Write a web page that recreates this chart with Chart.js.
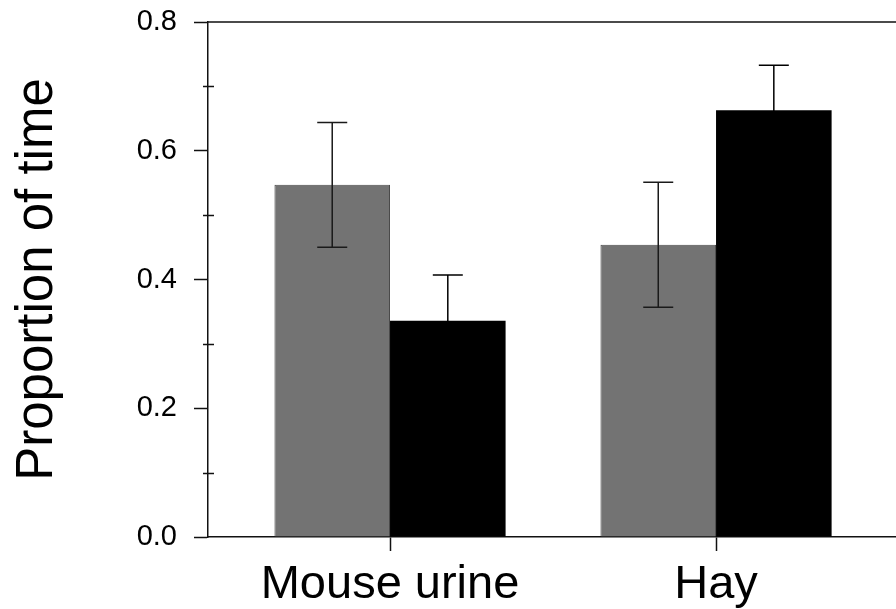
<!DOCTYPE html>
<html>
<head>
<meta charset="utf-8">
<script src="https://cdn.jsdelivr.net/npm/chart.js@4/dist/chart.umd.min.js"></script>
<style>
  html, body { margin: 0; padding: 0; background: #fff; overflow: hidden; }
  #wrap { width: 896px; height: 609px; position: relative; }
</style>
</head>
<body>
<div id="wrap"><canvas id="chart"></canvas></div>
<script>
// data
var categories = ['Mouse urine', 'Hay'];
var catPositions = [1, 2];
var grayValues = [0.547, 0.454];
var grayErrors = [0.097, 0.097];
var blackValues = [0.336, 0.663];
var blackErrors = [0.071, 0.070];
var yTicks = [0.0, 0.1, 0.2, 0.3, 0.4, 0.5, 0.6, 0.7, 0.8];

var FONT = "'Liberation Sans', Arial, sans-serif";

function points(vals) {
    return vals.map(function (v, i) { return { x: catPositions[i], y: v }; });
}

function isMajor(v) {
    return Math.round(v * 10) % 2 === 0;
}

// error bars, minor y ticks and the top frame line
var extras = {
    id: 'extras',
    afterDatasetsDraw: function (chart) {
        var ctx = chart.ctx;
        var yScale = chart.scales.y;
        var area = chart.chartArea;
        ctx.save();
        ctx.strokeStyle = '#111';
        ctx.lineWidth = 1.5;
        chart.data.datasets.forEach(function (ds, i) {
            var meta = chart.getDatasetMeta(i);
            meta.data.forEach(function (bar, j) {
                var v = ds.data[j].y;
                var e = ds.errors[j];
                var yt = yScale.getPixelForValue(v + e);
                var yb = yScale.getPixelForValue(v - e);
                ctx.strokeStyle = ds.whisker;
                ctx.beginPath();
                ctx.moveTo(bar.x, yt); ctx.lineTo(bar.x, yb);
                ctx.moveTo(bar.x - 15, yt); ctx.lineTo(bar.x + 15, yt);
                ctx.moveTo(bar.x - 15, yb); ctx.lineTo(bar.x + 15, yb);
                ctx.stroke();
            });
        });
        ctx.strokeStyle = '#111';
        ctx.beginPath();
        yScale.ticks.forEach(function (t) {
            if (!isMajor(t.value)) {
                var y = Math.round(yScale.getPixelForValue(t.value)) + 0.5;
                ctx.moveTo(area.left - 5, y); ctx.lineTo(area.left + 6, y);
            }
        });
        ctx.moveTo(area.left, area.top); ctx.lineTo(area.right, area.top);
        ctx.stroke();
        ctx.restore();
    }
};

var chart = new Chart(document.getElementById('chart'), {
    type: 'bar',
    data: {
        datasets: [{
            label: 'Gray',
            data: points(grayValues),
            errors: grayErrors,
            whisker: '#1a1a1a',
            backgroundColor: '#737373',
            borderColor: '#4a4a4a',
            borderWidth: 1
        }, {
            label: 'Black',
            data: points(blackValues),
            errors: blackErrors,
            whisker: '#000',
            backgroundColor: '#000',
            borderColor: '#000',
            borderWidth: 0
        }]
    },
    options: {
        responsive: true,
        maintainAspectRatio: false,
        animation: false,
        categoryPercentage: 0.709,
        barPercentage: 1.0,
        layout: { padding: { top: 22, right: 0, bottom: 0, left: 0 } },
        plugins: {
            legend: { display: false },
            tooltip: { enabled: false }
        },
        scales: {
            x: {
                type: 'linear',
                offset: false,
                min: 0.4417,
                max: 2.552,
                afterBuildTicks: function (scale) {
                    scale.ticks = catPositions.map(function (p) { return { value: p }; });
                },
                afterFit: function (scale) { scale.height = 72; },
                ticks: {
                    padding: 6,
                    color: '#000',
                    font: { family: FONT, size: 47 },
                    maxRotation: 0,
                    autoSkip: false,
                    callback: function (v) { return categories[catPositions.indexOf(v)]; }
                },
                grid: {
                    offset: false,
                    drawOnChartArea: false,
                    drawTicks: true,
                    tickLength: 14,
                    tickColor: '#111',
                    tickWidth: 1.5
                },
                border: { display: true, color: '#111', width: 1.5 }
            },
            y: {
                min: 0,
                max: 0.8,
                afterBuildTicks: function (scale) {
                    scale.ticks = yTicks.map(function (v) { return { value: v }; });
                },
                afterFit: function (scale) {
                    scale.width = 208;
                    scale.paddingTop = 0;
                    scale.paddingBottom = 0;
                },
                ticks: {
                    padding: 17,
                    color: '#000',
                    font: { family: FONT, size: 29 },
                    callback: function (v) { return isMajor(v) ? v.toFixed(1) : ''; }
                },
                grid: {
                    drawOnChartArea: false,
                    drawTicks: true,
                    tickLength: 14,
                    tickColor: function (c) { return c.tick && isMajor(c.tick.value) ? '#111' : 'rgba(0,0,0,0)'; },
                    tickWidth: 1.5
                },
                border: { display: true, color: '#111', width: 1.5 },
                title: {
                    display: true,
                    text: 'Proportion of time',
                    color: '#000',
                    font: { family: FONT, size: 51 },
                    padding: { top: 7, bottom: 0 }
                }
            }
        }
    },
    plugins: [extras]
});
</script>
</body>
</html>
